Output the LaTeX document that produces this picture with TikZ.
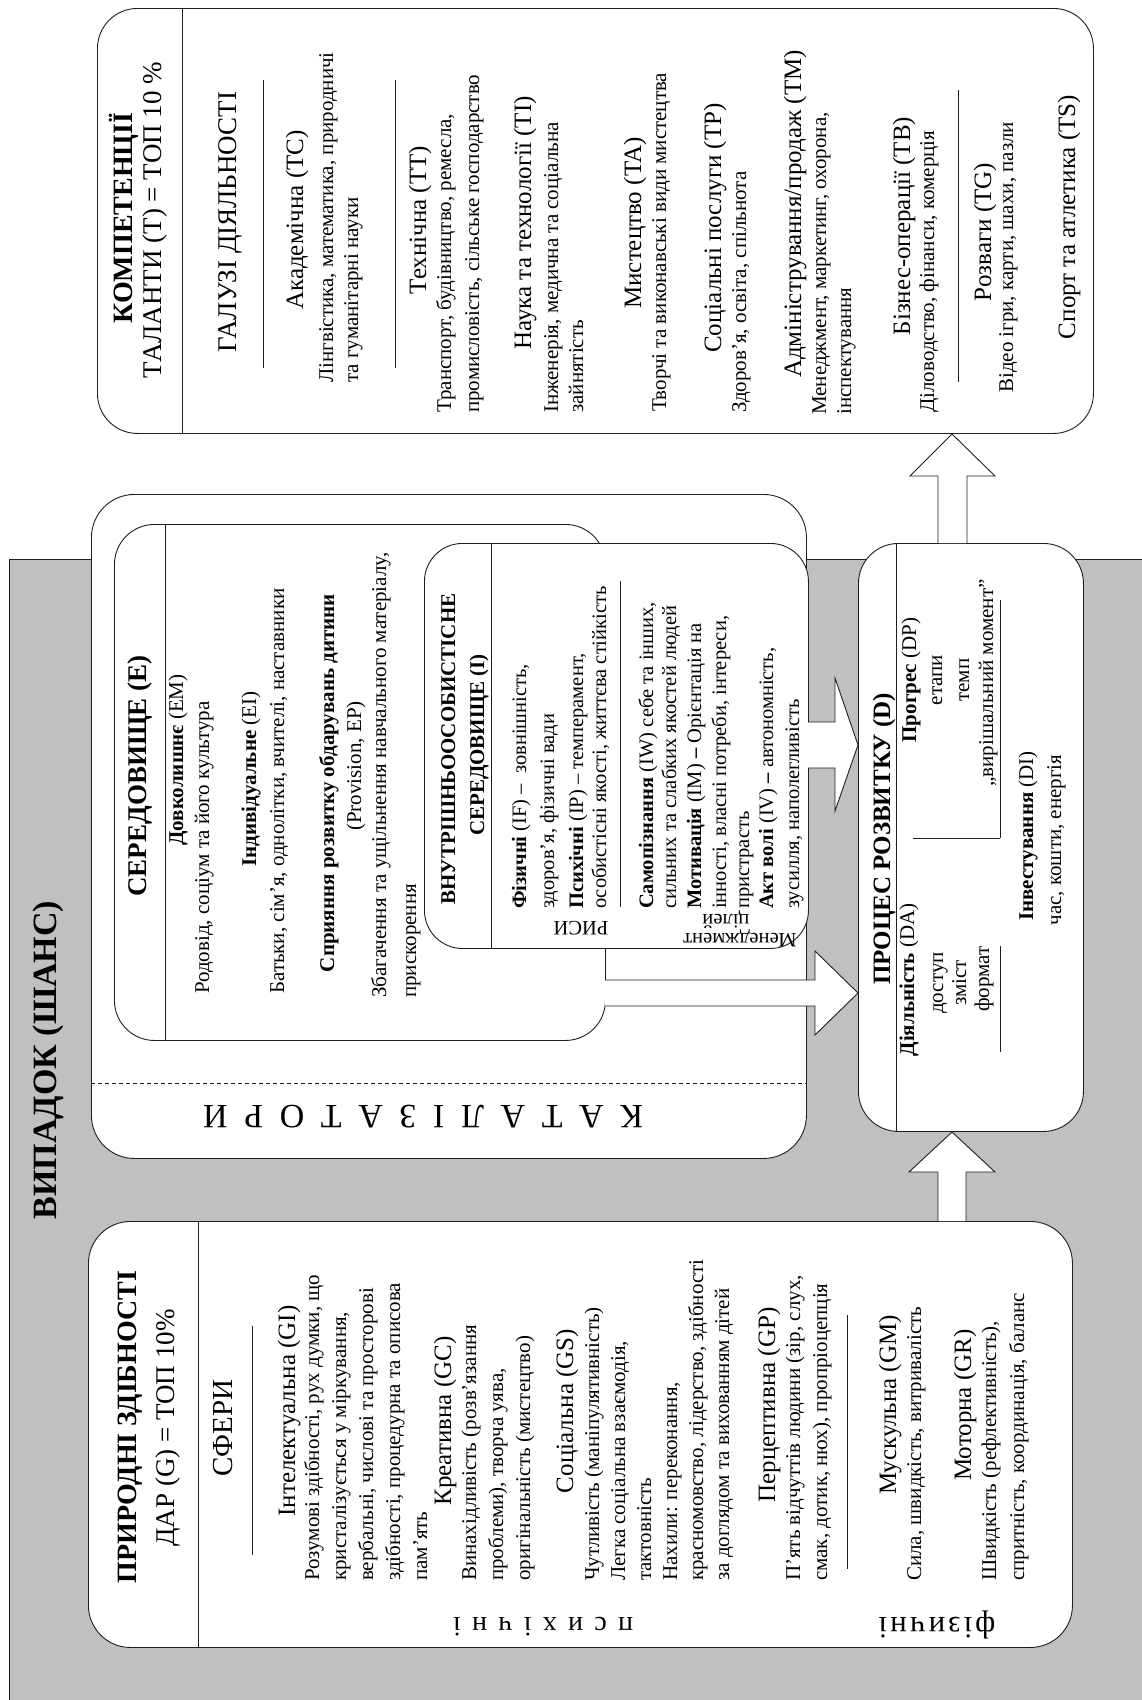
\documentclass[tikz,border=0pt]{standalone}
\usepackage{fontspec}
\setmainfont{Liberation Serif}
\newfontfamily\spacedfont[LetterSpace=10]{Liberation Serif}
\definecolor{bggray}{RGB}{192,192,192}
\definecolor{ln}{RGB}{30,30,30}
\tikzset{
  box/.style={draw=ln, line width=0.9pt, fill=white, rounded corners=40pt, anchor=north west, inner sep=0pt},
  sep/.style={draw=ln, line width=0.8pt},
  arr/.style={draw=ln, line width=0.9pt, fill=white, line join=miter},
  L/.style={rotate=90, anchor=base west, inner sep=0pt},
  C/.style={rotate=90, anchor=base, inner sep=0pt},
  U/.style={rotate=180, anchor=base, inner sep=0pt},
  f20/.style={font=\fontsize{20.5}{24}\selectfont},
  f21/.style={font=\fontsize{21}{25}\selectfont},
  f25/.style={font=\fontsize{25}{30}\selectfont},
  f27/.style={font=\fontsize{27}{32}\selectfont},
  f29/.style={font=\fontsize{29}{34}\selectfont},
  b21/.style={font=\bfseries\fontsize{21}{25}\selectfont},
  b25/.style={font=\bfseries\fontsize{25}{30}\selectfont},
  b27/.style={font=\bfseries\fontsize{27}{32}\selectfont},
  b28/.style={font=\bfseries\fontsize{28}{33}\selectfont},
  b34/.style={font=\bfseries\fontsize{34}{40}\selectfont},
}
\begin{document}
\begin{tikzpicture}[x=1pt,y=-1pt]
\useasboundingbox (0,0) rectangle (1142,1700);
% chance background
\node[draw=ln, line width=0.9pt, fill=bggray, anchor=north west, minimum width=1160pt, minimum height=1160pt, inner sep=0pt] (chance) at (9,559) {};
\node[C,b34] (chanceT) at (56,1060) {ВИПАДОК (ШАНС)};
% boxes
\node[box, minimum width=996pt, minimum height=425pt] (tal) at (97,8) {};
\draw[sep] (182,8) -- (182,433);
\node[box, minimum width=715pt, minimum height=664pt, rounded corners=43pt] (cat) at (91,494) {};
\draw[ln, line width=0.7pt, dash pattern=on 4pt off 3pt] (91,1083) -- (806,1083);
\node[box, minimum width=491pt, minimum height=516pt] (env) at (114,524) {};
\draw[sep] (165,524) -- (165,1040);
\node[box, minimum width=384pt, minimum height=405pt, rounded corners=38pt] (intra) at (424,543) {};
\draw[sep] (491,543) -- (491,948);
\node[box, minimum width=984pt, minimum height=426pt, rounded corners=42pt] (gift) at (88,1221) {};
\draw[sep] (198,1221) -- (198,1647);
\node[box, minimum width=225pt, minimum height=588pt] (proc) at (858,543) {};
\draw[sep] (896,543) -- (896,1131);
% arrows
\draw[arr] (808,722) -- (835,722) -- (835,678) -- (858,745) -- (835,811) -- (835,768) -- (808,768);
\draw[arr] (605,980) -- (815,980) -- (815,951) -- (858,993) -- (815,1035) -- (815,1006) -- (605,1006);
\draw[arr] (938,1221) -- (938,1172) -- (909,1172) -- (952,1132) -- (995,1172) -- (966,1172) -- (966,1221);
\draw[arr] (938,543) -- (938,476) -- (910,476) -- (952,434) -- (995,476) -- (967,476) -- (967,543);
% ===== Talents
\node[C,b28] (t1) at (132,218) {КОМПЕТЕНЦІЇ};
\node[C,f27] (t2) at (161,220) {ТАЛАНТИ (T) = ТОП 10 \%};
\node[C,f27] (t3) at (236,222) {ГАЛУЗІ ДІЯЛЬНОСТІ};
\draw[sep] (263,80) -- (263,368);
\node[C,f25] (tc) at (303,220) {Академічна (TC)};
\node[L,f21] (tc1) at (333,383) {Лінгвістика, математика, природничі};
\node[L,f21] (tc2) at (358,383) {та гуманітарні науки};
\draw[sep] (395,80) -- (395,368);
\node[C,f25] (tt) at (426,220) {Технічна (TT)};
\node[L,f21] (tt1) at (451,413) {Транспорт, будівництво, ремесла,};
\node[L,f21] (tt2) at (479,413) {промисловість, сільське господарство};
\node[C,f25] (ti) at (531,223) {Наука та технології (TI)};
\node[L,f21] (ti1) at (558,413) {Інженерія, медична та соціальна};
\node[L,f21] (ti2) at (583,413) {зайнятість};
\node[C,f25] (ta) at (641,223) {Мистецтво (TA)};
\node[L,f21] (ta1) at (666,412) {Творчі та виконавські види мистецтва};
\node[C,f25] (tp) at (721,228) {Соціальні послуги (TP)};
\node[L,f21] (tp1) at (746,413) {Здоров’я, освіта, спільнота};
\node[C,f25] (tm) at (801,214) {Адміністрування/продаж (TM)};
\node[L,f21] (tm1) at (826,415) {Менеджмент, маркетинг, охорона,};
\node[L,f21] (tm2) at (851,415) {інспектування};
\node[C,f25] (tb) at (910,226) {Бізнес-операції (TB)};
\node[L,f21] (tb1) at (934,413) {Діловодство, фінанси, комерція};
\draw[sep] (958,90) -- (958,382);
\node[C,f25] (tg) at (991,232) {Розваги (TG)};
\node[L,f21] (tg1) at (1013,393) {Відео ігри, карти, шахи, пазли};
\node[C,f25] (ts) at (1075,217) {Спорт та атлетика (TS)};
% ===== Environment
\node[C,b27] (e0) at (146,776) {СЕРЕДОВИЩЕ (E)};
\node[C,f21] (em) at (183,760) {\textbf{Довколишнє} (EM)};
\node[L,f21] (em1) at (209,994) {Родовід, соціум та його культура};
\node[C,f21] (ei) at (256,779) {\textbf{Індивідуальне} (EI)};
\node[L,f21] (ei1) at (284,994) {Батьки, сім’я, однолітки, вчителі, наставники};
\node[C,b21] (ep) at (334,783) {Сприяння розвитку обдарувань дитини};
\node[C,f21] (ep0) at (361,766) {(Provision, EP)};
\node[L,f21] (ep1) at (386,998) {Збагачення та ущільнення навчального матеріалу,};
\node[L,f21] (ep2) at (416,998) {прискорення};
% ===== Intrapersonal
\node[C,b21] (i0) at (455,749) {ВНУТРІШНЬООСОБИСТІСНЕ};
\node[C,b21] (i00) at (484,745) {СЕРЕДОВИЩЕ (I)};
\node[L,f20] (if) at (526,909) {\textbf{Фізичні} (IF) –\ \ зовнішність,};
\node[L,f20] (if1) at (554,909) {здоров’я, фізичні вади};
\node[L,f20] (ip) at (583,909) {\textbf{Психічні} (IP) – темперамент,};
\node[L,f20] (ip1) at (606,909) {особистісні якості, життєва стійкість};
\draw[sep] (620,581) -- (620,907);
\node[L,f20] (iw) at (653,909) {\textbf{Самопізнання} (IW) себе та інших,};
\node[L,f20] (iw1) at (676,909) {сильних та слабких якостей людей};
\node[L,f20] (im) at (701,909) {\textbf{Мотивація} (IM) \textbf{–} Орієнтація на};
\node[L,f20] (im1) at (726,909) {інності, власні потреби, інтереси,};
\node[L,f20] (im2) at (749,909) {пристрасть};
\node[L,f20] (iv) at (773,909) {\textbf{Акт волі} (IV) \textbf{–} автономність,};
\node[L,f20] (iv1) at (799,909) {зусилля, наполегливість};
\node[U,f20] (traits) at (581,921) {РИСИ};
\node[U,f20] (gm1) at (740,933) {Менеджмент};
\node[U,f20] (gm2) at (726,914) {цілей};
% catalysts label
\node[U,font=\fontsize{34}{40}\selectfont] (catT) at (423,1105) {\makebox[440pt][s]{К А Т А Л І З А Т О Р И}};
% ===== Process
\node[C,b25] (d0) at (890,839) {ПРОЦЕС РОЗВИТКУ (D)};
\node[C,f21] (da) at (914,980) {\textbf{Діяльність} (DA)};
\node[C,f21] (da1) at (943,983) {доступ};
\node[C,f21] (da2) at (966,983) {зміст};
\node[C,f21] (da3) at (989,979) {формат};
\draw[sep] (1000,946) -- (1000,1052);
\node[C,f21] (dp) at (916,680) {\textbf{Прогрес} (DP)};
\node[C,f21] (dp1) at (942,680) {етапи};
\node[C,f21] (dp2) at (969,680) {темп};
\node[C,f21] (dp3) at (993,683) {„вирішальний момент”};
\draw[sep] (1000,600) -- (1000,838);
\draw[sep] (913,838) -- (1000,838);
\node[C,f21] (di) at (1033,836) {\textbf{Інвестування} (DI)};
\node[C,f21] (di1) at (1061,840) {час, кошти, енергія};
% ===== Gifts
\node[C,b28] (g1) at (136,1427) {ПРИРОДНІ ЗДІБНОСТІ};
\node[C,f27] (g2) at (174,1428) {ДАР (G) = ТОП 10\%};
\node[C,f29] (g3) at (232,1428) {СФЕРИ};
\draw[sep] (252,1326) -- (252,1555);
\node[C,f25] (gi) at (295,1411) {Інтелектуальна (GI)};
\node[L,f21] (gi1) at (319,1581) {Розумові здібності, рух думки, що};
\node[L,f21] (gi2) at (346,1581) {кристалізується у міркування,};
\node[L,f21] (gi3) at (373,1581) {вербальні, числові та просторові};
\node[L,f21] (gi4) at (400,1581) {здібності, процедурна та описова};
\node[L,f21] (gi5) at (427,1581) {пам’ять};
\node[C,f25] (gc) at (451,1421) {Креативна (GC)};
\node[L,f21] (gc1) at (476,1581) {Винахідливість (розв’язання};
\node[L,f21] (gc2) at (503,1581) {проблеми), творча уява,};
\node[L,f21] (gc3) at (530,1581) {оригінальність (мистецтво)};
\node[C,f25] (gs) at (573,1411) {Соціальна (GS)};
\node[L,f21] (gs1) at (599,1581) {Чутливість (маніпулятивність)};
\node[L,f21] (gs2) at (625,1581) {Легка соціальна взаємодія,};
\node[L,f21] (gs3) at (651,1581) {тактовність};
\node[L,f21] (gs4) at (677,1581) {Нахили: переконання,};
\node[L,f21] (gs5) at (703,1581) {красномовство, лідерство, здібності};
\node[L,f21] (gs6) at (729,1581) {за доглядом та вихованням дітей};
\node[C,f25] (gp) at (775,1405) {Перцептивна (GP)};
\node[L,f21] (gp1) at (800,1581) {П’ять відчуттів людини (зір, слух,};
\node[L,f21] (gp2) at (827,1581) {смак, дотик, нюх), пропріоцепція};
\draw[sep] (847,1315) -- (847,1569);
\node[C,f25] (gm) at (896,1405) {Мускульна (GM)};
\node[L,f21] (gm11) at (921,1581) {Сила, швидкість, витривалість};
\node[C,f25] (gr) at (971,1405) {Моторна (GR)};
\node[L,f21] (gr1) at (996,1581) {Швидкість (рефлективність),};
\node[L,f21] (gr2) at (1024,1581) {спритність, координація, баланс};
\node[U,font=\fontsize{28}{30}\selectfont] (psy) at (543,1617) {\makebox[180pt][s]{п с и х і ч н і}};
\node[U,font=\spacedfont\fontsize{31}{34}\selectfont] (phy) at (937,1617) {фізичні};
\end{tikzpicture}
\end{document}
